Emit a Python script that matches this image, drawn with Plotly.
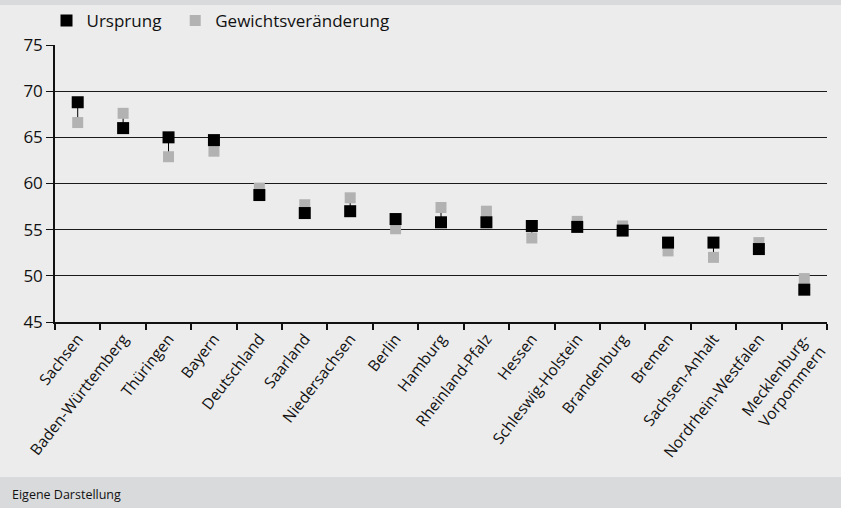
import plotly.graph_objects as go

categories = ["Sachsen", "Baden-Württemberg", "Thüringen", "Bayern", "Deutschland",
              "Saarland", "Niedersachsen", "Berlin", "Hamburg", "Rheinland-Pfalz",
              "Hessen", "Schleswig-Holstein", "Brandenburg", "Bremen", "Sachsen-Anhalt",
              "Nordrhein-Westfalen", "Mecklenburg-<br>Vorpommern"]
ursprung = [68.8, 66.0, 65.0, 64.7, 58.75, 56.8, 57.0, 56.15, 55.8, 55.8,
            55.4, 55.3, 54.9, 53.6, 53.6, 52.9, 48.5]
gewicht = [66.6, 67.6, 62.9, 63.5, 59.5, 57.7, 58.45, 55.1, 57.4, 57.0,
           54.1, 55.9, 55.4, 52.7, 52.0, 53.6, 49.7]
y_ticks = [45, 50, 55, 60, 65, 70, 75]

FONT = "Open Sans"
BG = "#ececec"
BAND = "#d9dadc"

# connector lines between the two markers of each category
cx, cy = [], []
for c, a, b in zip(categories, ursprung, gewicht):
    cx += [c, c, None]
    cy += [a, b, None]

fig = go.Figure()
fig.add_trace(go.Scatter(x=cx, y=cy, mode="lines", line=dict(color="#000000", width=1),
                         showlegend=False, hoverinfo="skip"))
fig.add_trace(go.Scatter(x=categories, y=gewicht, mode="markers", name="Gewichtsveränderung",
                         marker=dict(symbol="square", size=11, color="#b2b2b2")))
fig.add_trace(go.Scatter(x=categories, y=ursprung, mode="markers",
                         name="Ursprung\u00a0\u00a0",
                         marker=dict(symbol="square", size=12, color="#000000")))

W, H = 841, 508
ml, mr, mt, mb = 55, 14, 45, 186
ph = H - mt - mb

def py(px):
    # convert pixel y (from top) to paper coordinate
    return (H - mb - px) / ph

fig.add_shape(type="rect", xref="paper", yref="paper", x0=-1, x1=2,
              y0=py(5), y1=py(0), fillcolor=BAND, line_width=0, layer="below")
fig.add_shape(type="rect", xref="paper", yref="paper", x0=-1, x1=2,
              y0=py(508), y1=py(477), fillcolor=BAND, line_width=0, layer="below")
fig.add_annotation(text="Eigene Darstellung", xref="paper", yref="paper",
                   x=(10 - ml) / (W - ml - mr), y=py(494), xanchor="left", yanchor="middle",
                   showarrow=False, font=dict(family=FONT, size=12.5, color="#111111"))

fig.update_layout(
    width=W, height=H,
    margin=dict(l=ml, r=mr, t=mt, b=mb, autoexpand=False),
    paper_bgcolor=BG, plot_bgcolor=BG,
    font=dict(family=FONT, color="#111111"),
    legend=dict(orientation="h", x=-0.011, y=py(21), xanchor="left", yanchor="middle",
                traceorder="reversed", font=dict(family=FONT, size=17, color="#111111"),
                bgcolor="rgba(0,0,0,0)", itemwidth=30),
    xaxis=dict(type="category", tickson="boundaries", ticks="outside", ticklen=6,
               tickwidth=1.5, tickcolor="#111111", showline=True, linecolor="#111111",
               linewidth=1.5, showgrid=False, tickangle=-52,
               tickfont=dict(family=FONT, size=15.5, color="#111111"),
               range=[-0.5, len(categories) - 0.5]),
    yaxis=dict(range=[45, 75], tickvals=y_ticks, ticks="outside", ticklen=7,
               tickwidth=1.2, tickcolor="#111111", showline=True, linecolor="#111111",
               linewidth=1.5, showgrid=True, gridcolor="#1a1a1a", gridwidth=1.3,
               zeroline=False, tickfont=dict(family=FONT, size=17, color="#111111")),
)

fig.write_html("out.html", config={"displayModeBar": False},
               post_script="document.body.style.margin='0';document.body.style.padding='0';")
